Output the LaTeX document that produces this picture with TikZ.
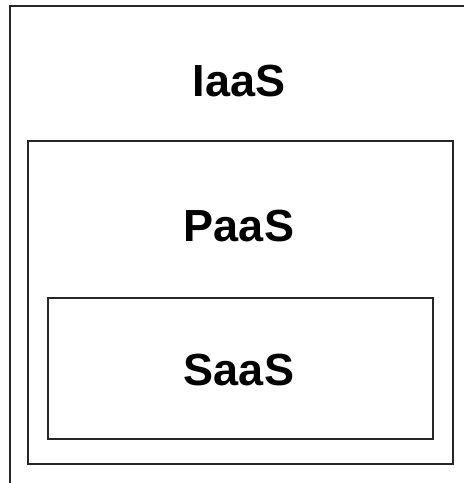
\documentclass[tikz,border=0pt]{standalone}
\usepackage{fontspec}
\setmainfont{Liberation Sans}
\usepackage{tikz}
\usetikzlibrary{positioning}

\tikzset{
    layerline/.style={draw=black!85, line width=2pt},
    layerbox/.style={layerline, rectangle, inner sep=0pt},
    layername/.style={anchor=base, inner sep=0pt, font=\fontsize{45}{54}\selectfont\bfseries}
}

\begin{document}
\begin{tikzpicture}[x=1pt,y=1pt]
            \useasboundingbox (0,0) rectangle (464,483);
            \clip (0,0) rectangle (464,483);
            % outermost layer runs off the page to the right and bottom
            \draw[layerline] (9.5,477) rectangle (520,-40);
            \node[layername] (iaas) at (239,386) {IaaS};
            % nested layers
            \node[layerbox, minimum width=425pt, minimum height=323pt] (paasbox) at (240,180.5) {};
            \node[layername] (paas) at (239,241) {PaaS};
            \node[layerbox, minimum width=385pt, minimum height=141pt] (saasbox) at (240,114.5) {};
            \node[layername] (saas) at (239,97) {SaaS};
        \end{tikzpicture}
\end{document}
